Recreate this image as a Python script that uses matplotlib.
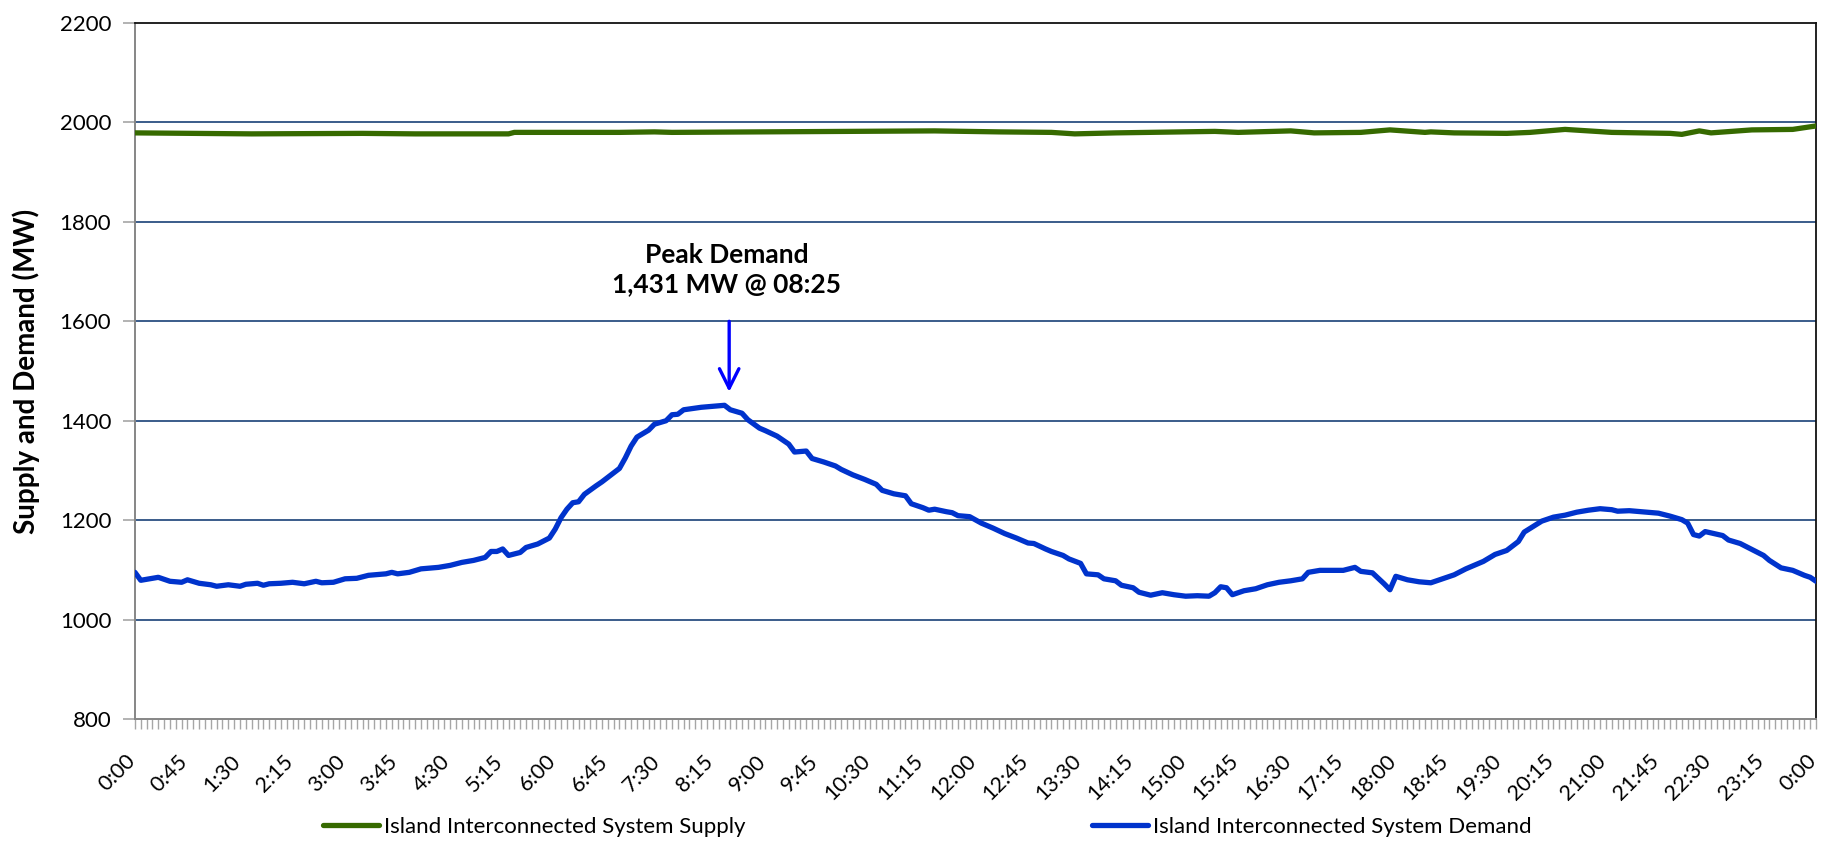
import matplotlib
matplotlib.use("Agg")
import matplotlib.pyplot as plt
import matplotlib.transforms as mtransforms
from matplotlib.ticker import FixedLocator, MultipleLocator, NullFormatter

plt.rcParams['font.family'] = ['Lato', 'DejaVu Sans']

# ---- data (time of day, MW) -------------------------------------------------
demand_times = [
    "0:00", "0:05", "0:15", "0:20", "0:30", "0:40", "0:45", "0:55", "1:05", "1:10",
    "1:20", "1:30", "1:35", "1:45", "1:50", "1:55", "2:05", "2:15", "2:25", "2:35",
    "2:40", "2:50", "3:00", "3:10", "3:20", "3:35", "3:40", "3:45", "3:55", "4:05",
    "4:20", "4:30", "4:40", "4:50", "5:00", "5:05", "5:10", "5:15", "5:20", "5:30",
    "5:35", "5:45", "5:55", "6:00", "6:05", "6:10", "6:15", "6:20", "6:25", "6:35",
    "6:40", "6:50", "6:55", "7:00", "7:05", "7:10", "7:20", "7:25", "7:35", "7:40",
    "7:45", "7:50", "8:05", "8:15", "8:25", "8:30", "8:40", "8:45", "8:55", "9:00",
    "9:10", "9:20", "9:25", "9:35", "9:40", "9:50", "10:00", "10:05", "10:15", "10:25",
    "10:35", "10:40", "10:50", "11:00", "11:05", "11:15", "11:20", "11:25", "11:35", "11:40",
    "11:45", "11:55", "12:05", "12:15", "12:25", "12:35", "12:45", "12:50", "13:00", "13:05",
    "13:15", "13:20", "13:30", "13:35", "13:45", "13:50", "14:00", "14:05", "14:15", "14:20",
    "14:30", "14:40", "14:50", "15:00", "15:10", "15:20", "15:25", "15:30", "15:35", "15:40",
    "15:50", "16:00", "16:10", "16:20", "16:30", "16:40", "16:45", "16:55", "17:05", "17:15",
    "17:25", "17:30", "17:40", "17:50", "17:55", "18:00", "18:10", "18:20", "18:30", "18:40",
    "18:50", "19:00", "19:15", "19:25", "19:35", "19:45", "19:50", "20:05", "20:15", "20:25",
    "20:35", "20:45", "20:55", "21:05", "21:10", "21:20", "21:35", "21:45", "21:55", "22:05",
    "22:10", "22:15", "22:20", "22:25", "22:40", "22:45", "22:55", "23:05", "23:15", "23:20",
    "23:30", "23:40", "23:50", "23:55", "24:00",
]
demand_mw = [
    1095, 1079, 1083, 1085, 1077, 1075, 1080, 1073, 1070, 1067,
    1070, 1067, 1071, 1073, 1069, 1072, 1073, 1075, 1072, 1077,
    1074, 1075, 1082, 1083, 1089, 1092, 1095, 1092, 1095, 1102,
    1105, 1109, 1115, 1119, 1125, 1137, 1137, 1142, 1129, 1135,
    1145, 1152, 1164, 1182, 1205, 1222, 1235, 1237, 1252, 1269,
    1277, 1295, 1304, 1325, 1349, 1367, 1381, 1393, 1400, 1412,
    1413, 1422, 1427, 1429, 1431, 1422, 1415, 1402, 1385, 1380,
    1369, 1353, 1337, 1339, 1324, 1317, 1309, 1302, 1291, 1282,
    1272, 1260, 1253, 1249, 1233, 1225, 1220, 1222, 1217, 1215,
    1209, 1207, 1194, 1184, 1173, 1164, 1154, 1153, 1142, 1137,
    1129, 1122, 1113, 1092, 1090, 1082, 1078, 1069, 1064, 1055,
    1049, 1054, 1050, 1047, 1048, 1047, 1054, 1066, 1064, 1050,
    1058, 1062, 1070, 1075, 1078, 1082, 1095, 1099, 1099, 1099,
    1105, 1097, 1094, 1072, 1060, 1087, 1080, 1076, 1074, 1082,
    1090, 1102, 1117, 1131, 1139, 1157, 1176, 1198, 1206, 1210,
    1216, 1220, 1223, 1221, 1218, 1219, 1216, 1214, 1208, 1201,
    1194, 1171, 1168, 1177, 1169, 1160, 1153, 1141, 1129, 1119,
    1104, 1099, 1089, 1085, 1077,
]

supply_times = [
    "0:00", "1:40", "3:15", "4:00", "5:20", "5:25", "6:55", "7:25", "7:40", "10:10",
    "11:25", "12:20", "13:05", "13:25", "14:00", "15:25", "15:45", "16:30", "16:50", "17:30",
    "17:55", "18:25", "18:30", "18:50", "19:35", "19:55", "20:25", "21:05", "21:55", "22:05",
    "22:20", "22:30", "23:05", "23:40", "24:00",
]
supply_mw = [
    1979, 1977, 1978, 1977, 1977, 1980, 1980, 1981, 1980, 1982,
    1983, 1981, 1980, 1977, 1979, 1982, 1980, 1983, 1979, 1980,
    1985, 1980, 1981, 1979, 1978, 1980, 1986, 1980, 1978, 1976,
    1983, 1979, 1985, 1986, 1993,
]

peak_time = "8:25"
peak_mw = 1431
y_ticks = [800, 1000, 1200, 1400, 1600, 1800, 2000, 2200]


def to_min(s):
    h, m = s.split(":")
    return int(h) * 60 + int(m)


dx = [to_min(t) for t in demand_times]
sx = [to_min(t) for t in supply_times]

fig = plt.figure(figsize=(18.21, 8.43), dpi=100)
ax = fig.add_axes([0.0741, 0.1471, 0.9232, 0.8256])

for y in y_ticks[1:-1]:
    ax.axhline(y, color="#2B4F81", lw=1.3, zorder=1)

ax.plot(sx, supply_mw, color="#366A00", lw=3.8, solid_capstyle="round",
        label="Island Interconnected System Supply", zorder=3)
ax.plot(dx, demand_mw, color="#0033CC", lw=3.8, solid_capstyle="round",
        label="Island Interconnected System Demand", zorder=3)

# peak annotation
px = to_min(peak_time) + 4
ax.annotate("", xy=(px, peak_mw + 27), xytext=(px, 1600),
            arrowprops=dict(arrowstyle="->", color="#0000FF", lw=2.4,
                            mutation_scale=35, shrinkA=0, shrinkB=0), zorder=4)
ax.text(px - 2, 1704, "Peak Demand\n" + f"{peak_mw:,} MW @ 08:25",
        ha="center", va="center", fontsize=19, fontweight="bold",
        linespacing=1.3, zorder=4)

ax.set_xlim(0, 1440)
ax.set_ylim(800, 2200)
ax.set_yticks(y_ticks)
ax.set_yticklabels([str(v) for v in y_ticks], fontsize=16)

# x axis: a tick every 5 minutes, a rotated label every 45 minutes
major = list(range(0, 1441, 45))
labels = [f"{(m // 60) % 24}:{m % 60:02d}" for m in major]
ax.xaxis.set_major_locator(FixedLocator(major))
ax.xaxis.set_minor_locator(MultipleLocator(5))
ax.xaxis.set_major_formatter(NullFormatter())
offset = mtransforms.ScaledTranslation(-10 / 100, -32 / 100, fig.dpi_scale_trans)
for m, lab in zip(major, labels):
    ax.text(m, 0, lab, transform=ax.get_xaxis_transform() + offset,
            rotation=45, ha="right", va="top", rotation_mode="anchor",
            fontsize=15.5, clip_on=False)

ax.tick_params(axis="x", which="both", direction="out", length=7, width=1,
               color="#A6A6A6")
ax.tick_params(axis="y", direction="out", length=9, width=1.2,
               color="#A6A6A6", pad=8)

ax.spines["left"].set_color("#868686")
ax.spines["left"].set_linewidth(1.4)
ax.spines["bottom"].set_color("#868686")
ax.spines["bottom"].set_linewidth(1.4)
ax.spines["top"].set_color("#111111")
ax.spines["top"].set_linewidth(1.3)
ax.spines["right"].set_color("#111111")
ax.spines["right"].set_linewidth(1.3)

ax.set_ylabel("Supply and Demand (MW)", fontsize=20, fontweight="bold",
              labelpad=14)

fig.legend(loc="center left", bbox_to_anchor=(0.1774, 0.019), ncol=2,
           frameon=False, fontsize=16, handlelength=2.5, handletextpad=0.25,
           columnspacing=15.6, borderpad=0, borderaxespad=0)

fig.savefig("out.png", dpi=100)
